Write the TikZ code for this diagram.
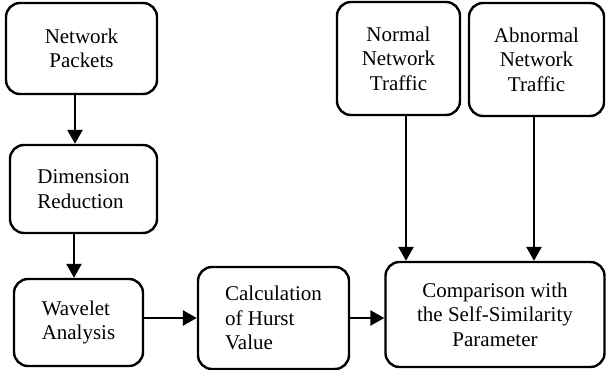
\documentclass[tikz,border=0pt]{standalone}
\usepackage{fontspec}
\setmainfont{Liberation Serif}
\usetikzlibrary{arrows.meta}

\tikzset{
  blk/.style={draw, line width=2.4pt, rounded corners=14pt, inner sep=0pt,
    font=\fontsize{21}{24.5}\selectfont},
  arr/.style={line width=2.6pt, -{Triangle[length=14pt,width=15pt]}}
}

\begin{document}
\begin{tikzpicture}[x=1pt,y=-1pt]
\useasboundingbox (0,0) rectangle (606,370);

\node[blk, minimum width=151pt, minimum height=91pt, align=center] (pk) at (81.5,48.5) {Network\\Packets};
\node[blk, minimum width=147pt, minimum height=88pt, align=left] (dr) at (83.5,189) {Dimension\\Reduction};
\node[blk, minimum width=129pt, minimum height=87pt, align=left] (wa) at (78.5,322.5) {Wavelet\\Analysis};
\node[blk, minimum width=151pt, minimum height=102pt, align=left] (hv) at (273.5,318) {Calculation\\of Hurst\\Value};
\node[blk, minimum width=219pt, minimum height=105pt, align=center] (cmp) at (495,314.5) {Comparison with\\the Self-Similarity\\Parameter};
\node[blk, minimum width=123pt, minimum height=113pt, align=center] (nt) at (398.5,58.5) {Normal\\Network\\Traffic};
\node[blk, minimum width=135pt, minimum height=113pt, align=center] (at) at (536.5,59.5) {Abnormal\\Network\\Traffic};

\draw[arr] ([xshift=-6.5pt]pk.south) -- ([xshift=-6.5pt]pk.south |- dr.north);
\draw[arr] ([xshift=-9.5pt]dr.south) -- ([xshift=-9.5pt]dr.south |- wa.north);
\draw[arr] (hv.west -| wa.east) -- (hv.west);
\draw[arr] (hv.east) -- (hv.east -| cmp.west);
\draw[arr] ([xshift=7.5pt]nt.south) -- ([xshift=7.5pt]nt.south |- cmp.north);
\draw[arr] ([xshift=-2.5pt]at.south) -- ([xshift=-2.5pt]at.south |- cmp.north);

\end{tikzpicture}
\end{document}
